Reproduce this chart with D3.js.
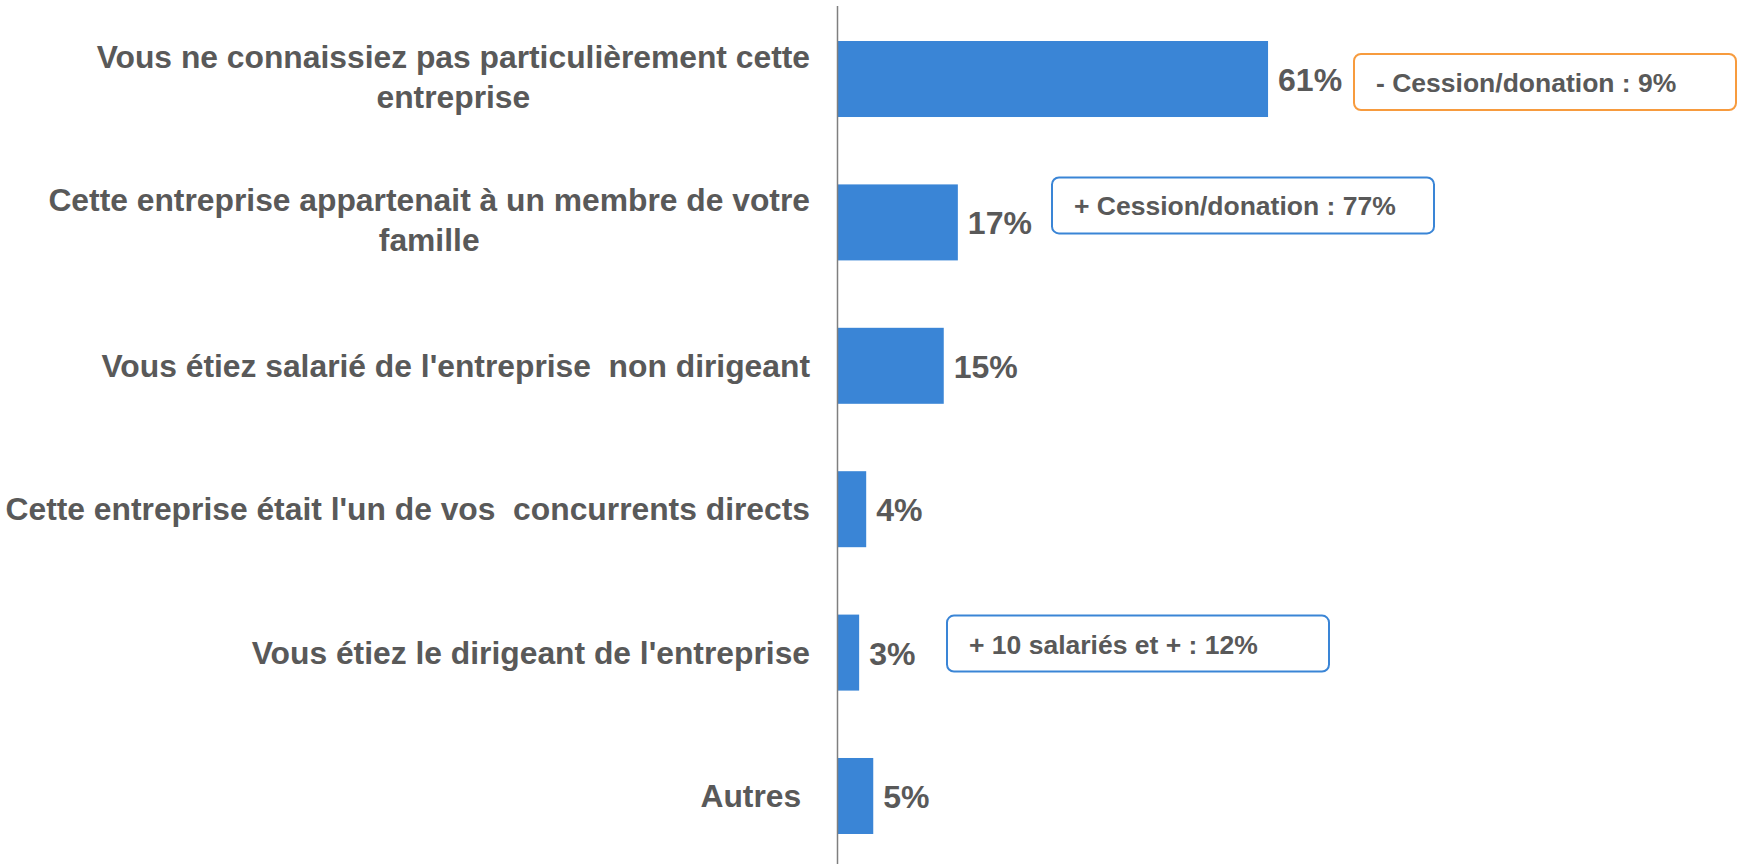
<!DOCTYPE html>
<html>
<head>
<meta charset="utf-8">
<script src="https://cdn.jsdelivr.net/npm/d3@7"></script>
<style>
  body { margin: 0; background: #fff; }
  text { font-family: Arial, "Liberation Sans", sans-serif; font-weight: bold; fill: #595959; white-space: pre; }
</style>
</head>
<body>
<div id="chart"></div>
<script>
// categories (one entry per line of the label) and shares
const categories = [
    ["Vous ne connaissiez pas particulièrement cette", "entreprise"],
    ["Cette entreprise appartenait à un membre de votre", "famille"],
    ["Vous étiez salarié de l'entreprise  non dirigeant"],
    ["Cette entreprise était l'un de vos  concurrents directs"],
    ["Vous étiez le dirigeant de l'entreprise"],
    ["Autres "]
];
const values = [0.61, 0.17, 0.15, 0.04, 0.03, 0.05];

// callout notes beside some bars
const noteIndex = [0, 1, 4];
const noteTexts = ["- Cession/donation : 9%", "+ Cession/donation : 77%", "+ 10 salariés et + : 12%"];
const noteTones = ["orange", "blue", "blue"];

const width = 1740, height = 864;
const axisX = 838;
const barColor = "#3A85D6";
const toneColor = { orange: "#F79B3E", blue: "#3A85D6" };
// layout of the callouts: left edge, and shift from the bar centre
const noteLeft = [1354, 1052, 947];
const noteShift = [3, -17, -9];
const noteW = 382, noteH = 56;

const svg = d3.select("#chart")
    .append("svg")
    .attr("width", width)
    .attr("height", height)
    .attr("viewBox", [0, 0, width, height]);

const keys = categories.map((d, i) => i);

let yScale = d3.scaleBand()
    .domain(keys)
    .range([0, 875])
    .paddingInner(0.47)
    .paddingOuter(0.286);

let xScale = d3.scaleLinear()
    .domain([0, 1])
    .range([axisX, axisX + 705]);

const mid = (i) => yScale(i) + yScale.bandwidth() / 2;

// bars
svg.selectAll("rect.bar")
    .data(values)
    .enter()
    .append("rect")
    .attr("class", "bar")
    .attr("x", xScale(0))
    .attr("y", (d, i) => yScale(i))
    .attr("width", (d) => xScale(d) - xScale(0))
    .attr("height", yScale.bandwidth())
    .style("fill", barColor);

// vertical axis line
svg.append("line")
    .attr("x1", axisX - 0.5).attr("x2", axisX - 0.5)
    .attr("y1", 6).attr("y2", height)
    .attr("stroke", "#7f7f7f")
    .attr("stroke-width", 1.5);

// value labels
svg.selectAll("text.val")
    .data(values)
    .enter()
    .append("text")
    .attr("class", "val")
    .attr("x", (d) => xScale(d) + 10)
    .attr("y", (d, i) => mid(i) + 12)
    .attr("font-size", "32px")
    .text((d) => d3.format(".0%")(d));

// category labels
const labelRight = 810;
const lineGap = 40;
categories.forEach((lines, i) => {
    const g = svg.append("g");
    const top = mid(i) - (lines.length - 1) * lineGap / 2 + (lines.length > 1 ? 9 : 11);
    const first = g.append("text")
        .attr("x", labelRight)
        .attr("y", top)
        .attr("text-anchor", "end")
        .attr("font-size", "31.8px")
        .text(lines[0]);
    const w = first.node().getComputedTextLength();
    lines.slice(1).forEach((ln, k) => {
        g.append("text")
            .attr("x", labelRight - w / 2)
            .attr("y", top + lineGap * (k + 1))
            .attr("text-anchor", "middle")
            .attr("font-size", "31.8px")
            .text(ln);
    });
});

// callouts
noteIndex.forEach((idx, k) => {
    const y0 = mid(idx) + noteShift[k] - noteH / 2;
    svg.append("rect")
        .attr("x", noteLeft[k])
        .attr("y", y0)
        .attr("width", noteW)
        .attr("height", noteH)
        .attr("rx", 7)
        .attr("fill", "#fff")
        .attr("stroke", toneColor[noteTones[k]])
        .attr("stroke-width", 2);
    svg.append("text")
        .attr("x", noteLeft[k] + 22)
        .attr("y", y0 + 38)
        .attr("font-size", "26.5px")
        .text(noteTexts[k]);
});
</script>
</body>
</html>
